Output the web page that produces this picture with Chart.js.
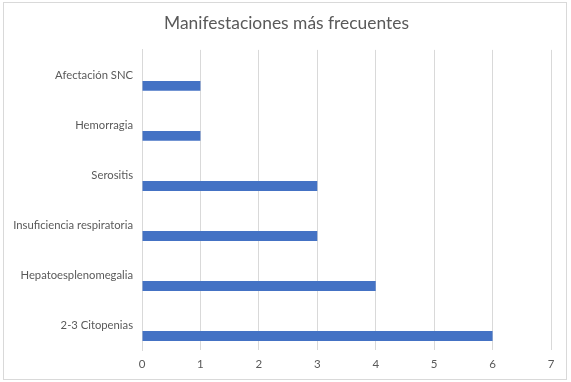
<!DOCTYPE html>
<html>
<head>
<meta charset="utf-8">
<script src="https://cdn.jsdelivr.net/npm/chart.js@4/dist/chart.umd.min.js"></script>
<style>
html,body{margin:0;padding:0;background:#fff;}
#wrap{position:relative;width:571px;height:382px;}
#frame{position:absolute;left:3px;top:2px;width:564px;height:378px;box-sizing:border-box;border:1px solid #d9d9d9;pointer-events:none;}
</style>
</head>
<body>
<div id="wrap">
<canvas id="c" width="571" height="382"></canvas>
<div id="frame"></div>
</div>
<script>
const categories = ["Afectación SNC", "Hemorragia", "Serositis", "Insuficiencia respiratoria", "Hepatoesplenomegalia", "2-3 Citopenias"];
const emptySeries = [null, null, null, null, null, null];
const values = [1, 1, 3, 3, 4, 6];
const xTicks = [0, 1, 2, 3, 4, 5, 6, 7];
const title = "Manifestaciones más frecuentes";

const txt = '#595959';
const shiftTitle = {
  id: 'shiftTitle',
  afterLayout(chart) {
    const t = chart.titleBlock;
    if (t) { t.left += 9; t.right += 9; }
  }
};
new Chart(document.getElementById('c'), {
  type: 'bar',
  data: {
    labels: categories,
    datasets: [
      {label: 'a', data: emptySeries, backgroundColor: '#4472C4'},
      {label: 'b', data: values, backgroundColor: '#4472C4'}
    ]
  },
  plugins: [shiftTitle],
  options: {
    indexAxis: 'y',
    responsive: false,
    animation: false,
    datasets: {bar: {categoryPercentage: 0.88, barPercentage: 0.45}},
    layout: {padding: {left: 4, right: 20, top: 0, bottom: 0}},
    plugins: {
      legend: {display: false},
      tooltip: {enabled: false},
      title: {
        display: true, text: title, color: txt,
        font: {family: 'Lato', size: 17.4, weight: 'normal'},
        padding: {top: 13, bottom: 16}
      }
    },
    scales: {
      x: {
        min: xTicks[0], max: xTicks[xTicks.length - 1],
        afterBuildTicks: s => { s.ticks = xTicks.map(v => ({value: v})); },
        afterFit: s => { s.height = 32; },
        grid: {color: '#d9d9d9', drawTicks: false},
        border: {display: false},
        ticks: {color: txt, font: {family: 'Lato', size: 11.5}, padding: 7}
      },
      y: {
        afterFit: s => { s.width = 138; },
        grid: {display: false, drawTicks: false},
        border: {display: true, color: '#d9d9d9'},
        ticks: {color: txt, font: {family: 'Lato', size: 11.25}, padding: 9, autoSkip: false}
      }
    }
  }
});
</script>
</body>
</html>
